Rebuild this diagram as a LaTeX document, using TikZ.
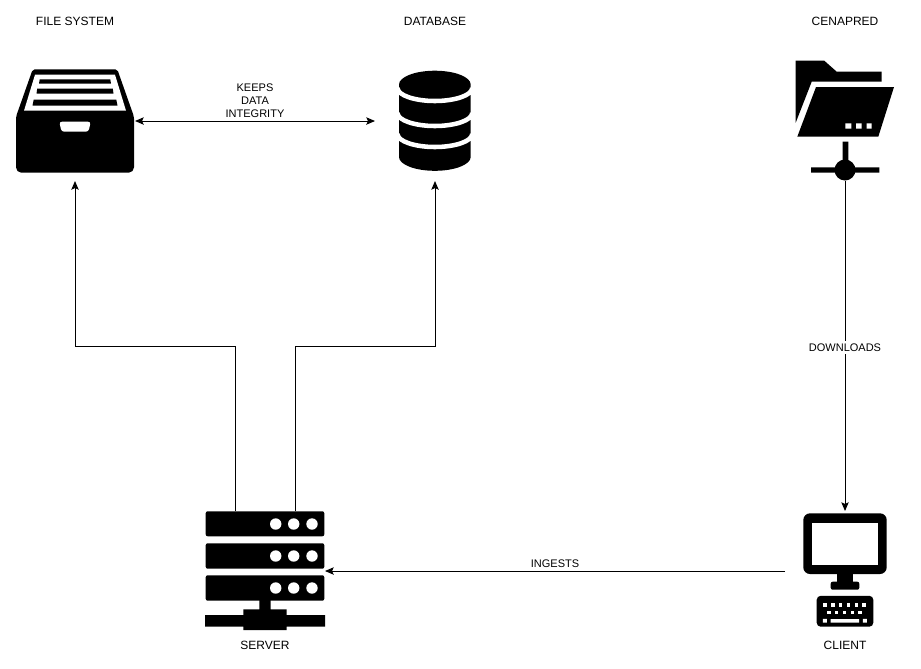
\documentclass[tikz,border=0pt]{standalone}
\usepackage{fontspec}
\setmainfont{Liberation Sans}
\usetikzlibrary{arrows.meta,calc}
\tikzset{
  x=0.75pt,y=-0.75pt,
  iconbox/.style={minimum width=90pt,minimum height=90pt,inner sep=0pt,outer sep=0pt},
  lbl/.style={font=\fontsize{8.25pt}{9.75pt}\selectfont,text=black,inner sep=1pt,align=center},
  title/.style={font=\fontsize{9pt}{10.5pt}\selectfont,text=black,inner sep=1pt,align=center},
  conn/.style={draw=black,line width=0.75pt},
  arr/.style={conn,-{Stealth[length=6.5pt,width=5.5pt,inset=1.2pt]}},
  darr/.style={conn,{Stealth[length=6.5pt,width=5.5pt,inset=1.2pt]}-{Stealth[length=6.5pt,width=5.5pt,inset=1.2pt]}},
  ink/.style={fill=black,draw=none},
  paper/.style={fill=white,draw=none},
}
\begin{document}
\begin{tikzpicture}
\useasboundingbox (0,0) rectangle (921,668);
\fill[white] (0,0) rectangle (921,668);
% icon boxes
\node[iconbox] (fs) at (75,121) {};
\node[iconbox] (db) at (435,121) {};
\node[iconbox] (cen) at (845,121) {};
\node[iconbox] (srv) at (265,571) {};
\node[iconbox] (cli) at (845,571) {};
\coordinate (srvA) at ($(srv.north)+(-30,0)$);
\coordinate (srvB) at ($(srv.north)+(30,0)$);
% file system
\path[ink,rounded corners=1.5pt] (32.7,69.3) -- (117.3,69.3) -- (134,116.7) [rounded corners=4pt] -- (134,172.7) -- (16,172.7) [rounded corners=1.5pt] -- (16,116.7) -- cycle;
\path[paper] (35,74.7) -- (115,74.7) -- (126,110.7) -- (24,110.7) -- cycle;
\path[ink] (39.7,79.3) -- (110.3,79.3) -- (111,83.7) -- (39,83.7) -- cycle;
\path[ink] (37.2,88.7) -- (112.8,88.7) -- (113.5,93.7) -- (36.5,93.7) -- cycle;
\path[ink] (33.7,99.7) -- (116.3,99.7) -- (117.5,105.7) -- (32.5,105.7) -- cycle;
\path[paper,rounded corners=2pt] (59.3,121.7) -- (90.7,121.7) -- (88.5,131.7) -- (61.5,131.7) -- cycle;
% database
\path[ink] (399,84.5) .. controls (399,76.9) and (415.2,70.7) .. (434.85,70.7) .. controls (454.6,70.7) and (470.7,76.9) .. (470.7,84.5) -- (470.7,157) .. controls (470.7,164.6) and (454.6,170.8) .. (434.85,170.8) .. controls (415.2,170.8) and (399,164.6) .. (399,157) -- cycle;
\foreach \ya/\yb/\yc in {88/95.2/101,113/120.2/126,134/141.2/147}{
  \draw[white,line width=3.4pt] (397.5,\ya) .. controls (397.5,\yb) and (414.5,\yc) .. (434.85,\yc) .. controls (455.2,\yc) and (472.2,\yb) .. (472.2,\ya);
}
% cenapred
\path[ink] (795.7,60.7) -- (824.3,60.7) -- (836.7,71.7) -- (881.7,71.7) -- (881.7,81.7) -- (811.7,81.7) -- (795.7,122.7) -- cycle;
\path[ink] (816,87) -- (894,87) -- (878.3,136.7) -- (797.3,136.7) -- cycle;
\path[paper] (845.3,123.3) rectangle (851.3,128.7) (856,123.3) rectangle (861.7,128.7) (866.7,123.3) rectangle (871.7,128.7);
\path[ink] (842.7,141.7) rectangle (848.3,165) (811,167.3) rectangle (879.3,172.7);
\path[ink] (845,170) circle[radius=10.5];
% server
\foreach \ya/\yb/\yc in {511.3/536.3/524,543.3/568.7/556,575.3/600.7/588}{
  \path[ink,rounded corners=1.5pt] (205.7,\ya) rectangle (324.3,\yb);
  \foreach \xx in {275.7,293.7,312}{\path[paper] (\xx,\yc) circle[radius=5.7];}
}
\path[ink] (259.3,600) rectangle (270.7,612) (243.3,609.3) rectangle (286.7,630) (205,615) rectangle (325,626.7);
% client
\path[ink,rounded corners=5pt] (803.3,513.3) rectangle (886.7,574);
\path[paper] (811.7,522.7) rectangle (878.3,565);
\path[ink] (837.3,573) rectangle (852.7,583);
\path[ink,rounded corners=1.5pt] (830.7,581.7) rectangle (859.3,589.7);
\path[ink,rounded corners=3pt] (816.7,595.8) rectangle (873.3,626.7);
\foreach \xx in {823.3,831.1,838.9,846.7,854.5,862.3}{\path[paper] (\xx,602.7) rectangle ++(3.4,4);}
\foreach \xx in {827.2,835,842.8,850.6,858.4}{\path[paper] (\xx,610.5) rectangle ++(3.4,3.6);}
\path[paper] (822.8,618.8) rectangle ++(4,3.8) (830.7,619) rectangle (859,622.6) (862.9,618.8) rectangle ++(4,3.8);
% connectors
\draw[darr] (fs.east) -- node[lbl,above=1pt] {KEEPS\\DATA\\INTEGRITY} (db.west);
\draw[arr] (srvA) |- ($(fs.south)+(0,165.5)$) -- (fs.south);
\draw[arr] (srvB) |- ($(db.south)+(0,165.5)$) -- (db.south);
\draw[arr] (cen.south) -- node[lbl,fill=white,inner sep=2pt,yshift=-1pt] {DOWNLOADS} (cli.north);
\draw[arr] (cli.west) -- node[lbl,above=1.5pt] {INGESTS} (srv.east);
% labels
\node[title] (tfs) at (75,21.5) {FILE SYSTEM};
\node[title] (tdb) at (435,21.5) {DATABASE};
\node[title] (tcen) at (845,21.5) {CENAPRED};
\node[title] (tsrv) at (265,645.5) {SERVER};
\node[title] (tcli) at (845,645.5) {CLIENT};
\end{tikzpicture}
\end{document}
